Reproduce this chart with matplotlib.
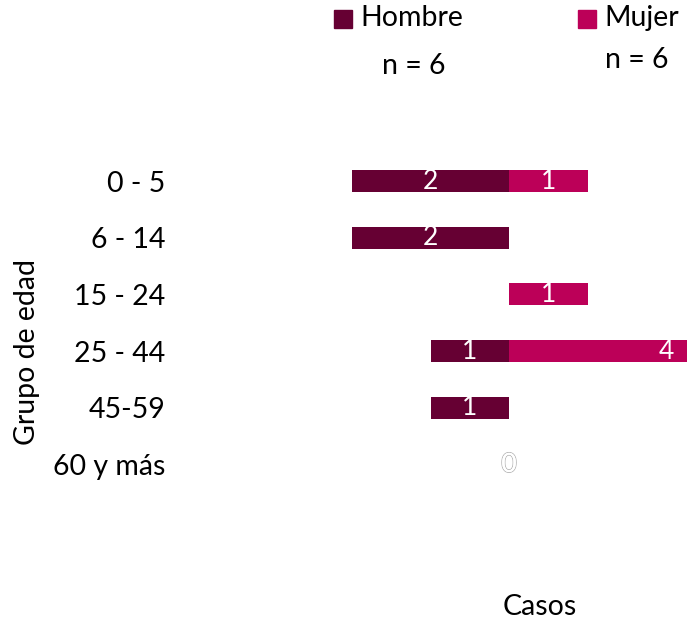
import matplotlib.pyplot as plt
import matplotlib.patheffects as pe
from matplotlib.patches import Rectangle

grupos = ["0 - 5", "6 - 14", "15 - 24", "25 - 44", "45-59", "60 y más"]
hombre = [2, 2, 0, 1, 1, 0]
mujer = [1, 0, 1, 4, 0, 0]
n_hombre = 6
n_mujer = 6

c_h = "#660033"
c_m = "#BC0058"
plt.rcParams['font.family'] = ['Lato', 'DejaVu Sans']

W, H = 687, 622
fig = plt.figure(figsize=(W / 100, H / 100), dpi=100)
# axes in pixels: x from 195 to 823 (-4..4), y rows at 182..466
ax = fig.add_axes([195 / W, (H - 580) / H, 628 / W, 455 / H])
ax.set_xlim(-4, 4)
ypos = list(range(len(grupos)))
ax.set_ylim(len(grupos) - 1 + 2.04, -0.99)

ax.barh(ypos, [-v for v in hombre], height=0.39, color=c_h)
ax.barh(ypos, mujer, height=0.39, color=c_m)

for i in ypos:
    if hombre[i]:
        ax.text(-hombre[i] / 2, i, str(hombre[i]), color="white", ha="center", va="center", fontsize=19)
    if mujer[i]:
        ax.text(mujer[i] / 2, i, str(mujer[i]), color="white", ha="center", va="center", fontsize=19)
    if hombre[i] == 0 and mujer[i] == 0:
        t = ax.text(0, i, "0", color="white", ha="center", va="center", fontsize=19)
        t.set_path_effects([pe.withStroke(linewidth=1.2, foreground="#b0b0b0"), pe.Normal()])

ax.set_yticks(ypos)
ax.set_yticklabels(grupos, fontsize=20.5)
ax.set_xticks([])
ax.tick_params(axis="y", length=0, pad=21.5)
for s in ax.spines.values():
    s.set_visible(False)

fig.text(27 / W, 1 - 352 / H, "Grupo de edad", rotation=90, ha="center", va="center", fontsize=20.5)
fig.text(540 / W, 1 - 607 / H, "Casos", ha="center", va="center", fontsize=20.5)

# legend
fig.patches.append(Rectangle((334 / W, 1 - 28 / H), 18 / W, 18 / H, transform=fig.transFigure, color=c_h))
fig.text(360 / W, 1 - 18 / H, "Hombre", ha="left", va="center", fontsize=20.5)
fig.patches.append(Rectangle((578 / W, 1 - 28 / H), 18 / W, 18 / H, transform=fig.transFigure, color=c_m))
fig.text(604 / W, 1 - 18 / H, "Mujer", ha="left", va="center", fontsize=20.5)
fig.text(414 / W, 1 - 66 / H, "n = %d" % n_hombre, ha="center", va="center", fontsize=20.5)
fig.text(637 / W, 1 - 60 / H, "n = %d" % n_mujer, ha="center", va="center", fontsize=20.5)

fig.savefig("out.png", dpi=100)
